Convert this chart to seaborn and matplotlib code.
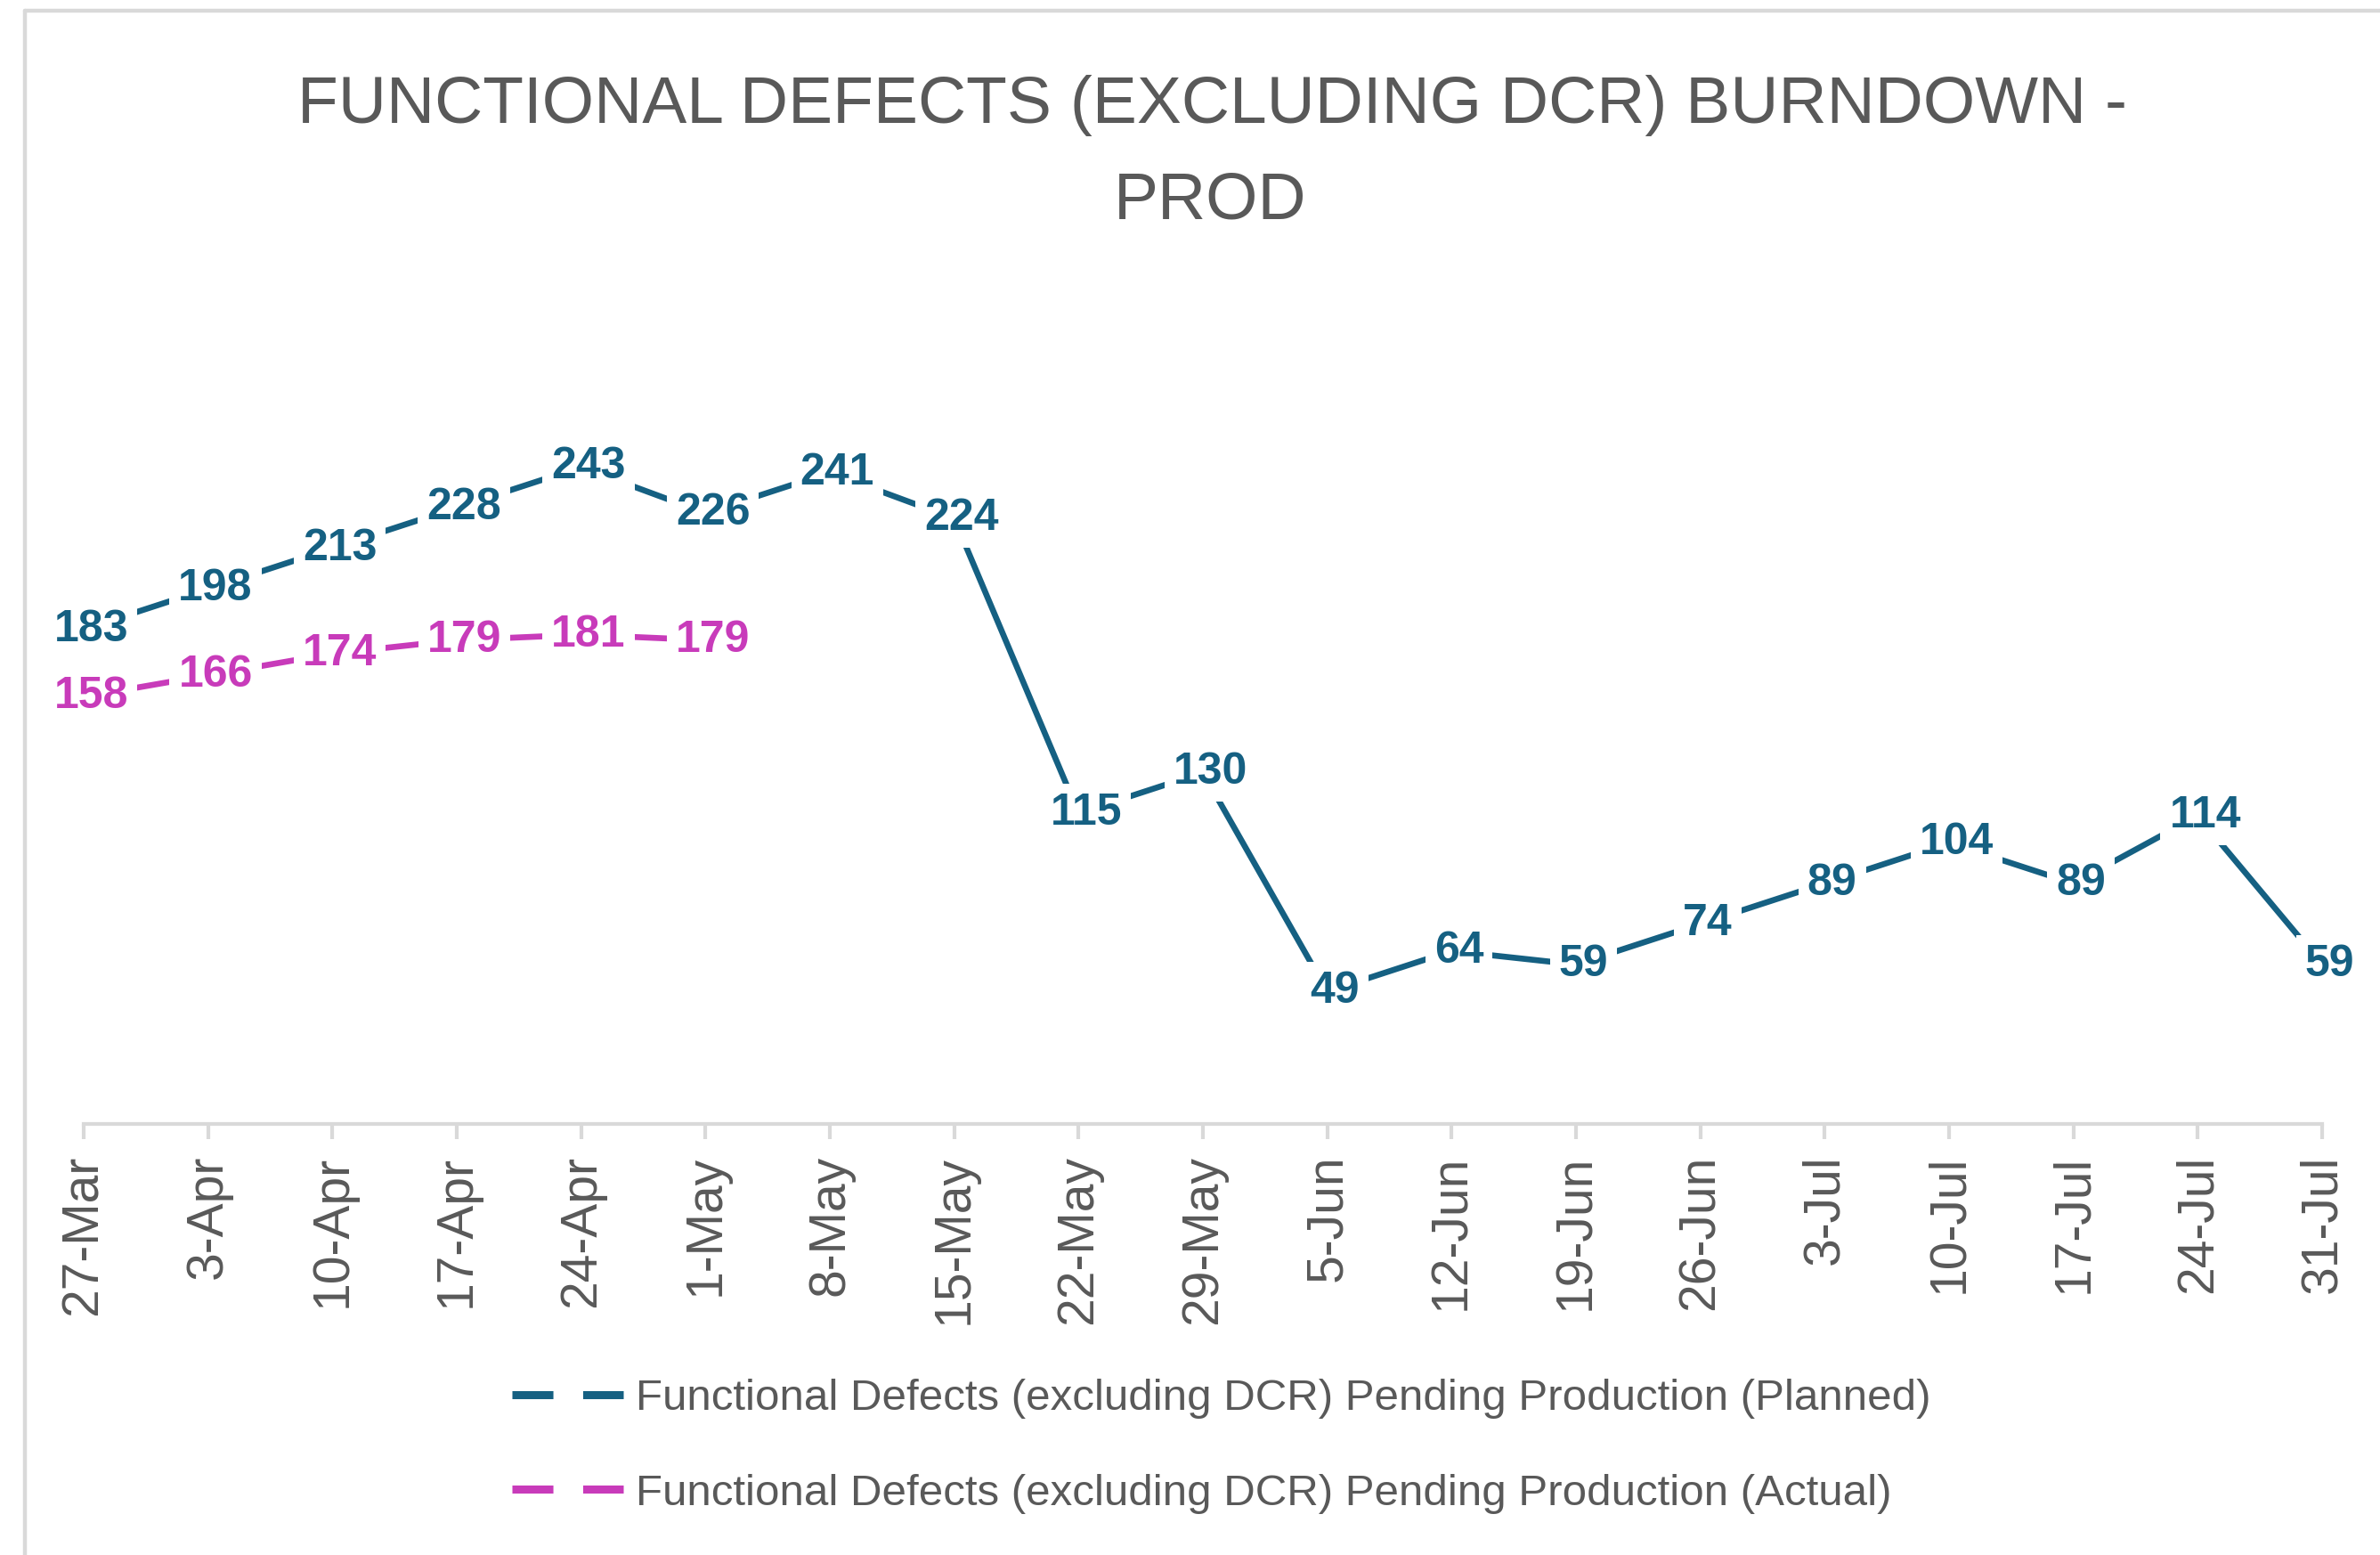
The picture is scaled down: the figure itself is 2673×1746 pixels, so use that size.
import numpy as np
import pandas as pd
import seaborn as sns
import matplotlib.pyplot as plt
from matplotlib.lines import Line2D
from matplotlib import font_manager

weeks = ['27-Mar', '3-Apr', '10-Apr', '17-Apr', '24-Apr', '1-May', '8-May', '15-May',
         '22-May', '29-May', '5-Jun', '12-Jun', '19-Jun', '26-Jun', '3-Jul', '10-Jul',
         '17-Jul', '24-Jul', '31-Jul']
planned = [183, 198, 213, 228, 243, 226, 241, 224, 115, 130, 49, 64, 59, 74, 89, 104, 89, 114, 59]
actual = [158, 166, 174, 179, 181, 179]

series_names = ['Functional Defects (excluding DCR) Pending Production (Planned)',
                'Functional Defects (excluding DCR) Pending Production (Actual)']

PLANNED_COLOR = '#156082'
ACTUAL_COLOR = '#C83BBA'
TEXT_GRAY = '#595959'
AXIS_GRAY = '#D9D9D9'

sns.set_theme(style='white')
plt.rcParams['font.family'] = ['Liberation Sans', 'DejaVu Sans']

installed = {f.name for f in font_manager.fontManager.ttflist}
if 'Liberation Sans Narrow' in installed:
    legend_prop = {'family': ['Liberation Sans Narrow', 'DejaVu Sans'], 'size': 37}
else:
    legend_prop = {'family': ['Liberation Sans', 'DejaVu Sans'], 'size': 35.5}
leg_px = legend_prop['size'] * 100 / 72

df_plan = pd.DataFrame({'pos': np.arange(len(weeks)), 'week': weeks, 'value': planned})
df_act = pd.DataFrame({'pos': np.arange(len(actual)), 'week': weeks[:len(actual)], 'value': actual})

W, H = 2673, 1746
fig = plt.figure(figsize=(W / 100, H / 100), dpi=100)
ax = fig.add_axes([94 / W, (H - 1262) / H, (2608 - 94) / W, 910.5 / H])

sns.lineplot(data=df_plan, x='pos', y='value', ax=ax, color=PLANNED_COLOR, linewidth=4.8, legend=False)
sns.lineplot(data=df_act, x='pos', y='value', ax=ax, color=ACTUAL_COLOR, linewidth=4.8, legend=False)

# data labels sit on the points, white box breaks the line like excel does
for d, col in [(df_plan, PLANNED_COLOR), (df_act, ACTUAL_COLOR)]:
    for x, v in zip(d['pos'], d['value']):
        ax.annotate(str(v), (x, v), xytext=(6, 0), textcoords='offset points',
                    ha='center', va='center', fontsize=36, fontweight='bold',
                    color=col, zorder=5,
                    bbox=dict(boxstyle='square,pad=0.2', fc='white', ec='none'))

ax.set_xlim(0, len(weeks) - 1)
ax.set_ylim(0, 300)
ax.set_xticks(df_plan['pos'])
ax.set_xticklabels(weeks, rotation=90, fontsize=41, color=TEXT_GRAY)
ax.tick_params(axis='x', bottom=True, direction='out', length=12, width=3, color=AXIS_GRAY, pad=13)
ax.set_yticks([])
ax.set_xlabel('')
ax.set_ylabel('')
for s in ['left', 'right', 'top']:
    ax.spines[s].set_visible(False)
ax.spines['bottom'].set_color(AXIS_GRAY)
ax.spines['bottom'].set_linewidth(3)

# title, two lines like the original
fig.text(1362 / W, 1 - 138 / H, 'FUNCTIONAL DEFECTS (EXCLUDING DCR) BURNDOWN -',
         ha='center', va='baseline', fontsize=54, color=TEXT_GRAY)
fig.text(1359 / W, 1 - 245 / H, 'PROD', ha='center', va='baseline', fontsize=54, color=TEXT_GRAY)

handles = [Line2D([], [], color=PLANNED_COLOR, lw=6.5, linestyle=(0, (5.1, 3.7))),
           Line2D([], [], color=ACTUAL_COLOR, lw=6.5, linestyle=(0, (5.1, 3.7)))]
fig.legend(handles, series_names, loc='upper left', bbox_to_anchor=(575 / W, 1 - 1548 / H),
           frameon=False, prop=legend_prop, labelcolor=TEXT_GRAY, handlelength=125 / leg_px,
           handletextpad=14 / leg_px, labelspacing=1.25, borderpad=0, borderaxespad=0)

# chart area border (only top and left are visible in the crop)
fig.add_artist(Line2D([28 / W, 1], [1 - 12 / H, 1 - 12 / H], transform=fig.transFigure,
                      color=AXIS_GRAY, lw=3.2))
fig.add_artist(Line2D([28 / W, 28 / W], [0, 1 - 12 / H], transform=fig.transFigure,
                      color=AXIS_GRAY, lw=3.2))

fig.savefig('out.png', dpi=100)
